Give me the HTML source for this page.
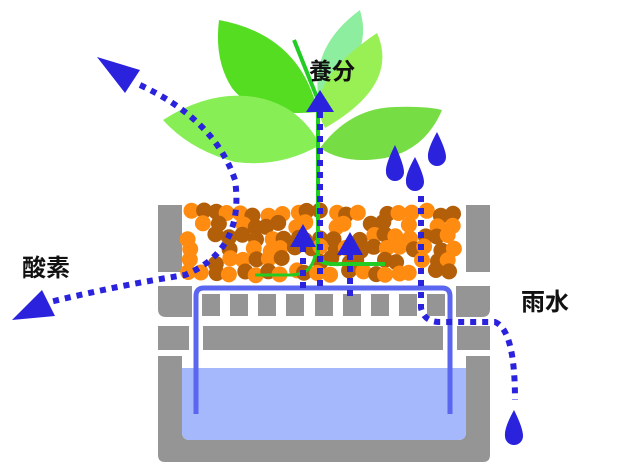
<!DOCTYPE html>
<html><head><meta charset="utf-8"><style>
html,body{margin:0;padding:0;background:#fff;width:640px;height:476px;overflow:hidden}
svg{display:block}
text{font-family:"Liberation Sans","Noto Sans CJK JP",sans-serif;font-weight:bold;fill:#111}
</style></head><body>
<svg id="s" width="640" height="476" viewBox="0 0 640 476" xmlns="http://www.w3.org/2000/svg">
<g fill="#959595">
<rect x="158" y="205" width="24" height="67"/>
<rect x="466" y="205" width="24" height="67"/>
<path d="M158 286 H192 V317 H166 Q158 317 158 309 Z"/>
<path d="M456 286 H490 V309 Q490 317 482 317 H456 Z"/>
<rect x="202" y="294" width="18" height="22"/><rect x="230" y="294" width="18" height="22"/>
<rect x="258" y="294" width="18" height="22"/><rect x="286" y="294" width="18" height="22"/>
<rect x="315" y="294" width="18" height="22"/><rect x="343" y="294" width="18" height="22"/>
<rect x="371" y="294" width="18" height="22"/><rect x="399" y="294" width="18" height="22"/>
<rect x="427" y="294" width="18" height="22"/>
<rect x="158" y="326" width="31" height="24"/>
<rect x="203" y="326" width="240" height="24"/>
<rect x="457" y="326" width="33" height="24"/>
<path d="M158 356 H182 V432 Q182 440 190 440 H458 Q466 440 466 432 V356 H490 V455 Q490 462 483 462 H165 Q158 462 158 455 Z"/>
</g>
<path d="M182 368 H466 V432 Q466 440 458 440 H190 Q182 440 182 432 Z" fill="#a4b8fb"/>
<g id="soil"></g>
<path d="M196 414 V296 Q196 288 204 288 H442 Q450 288 450 296 V414" fill="none" stroke="#5a66f0" stroke-width="5"/>
<!-- leaves -->
<path d="M219 20 Q300 35 318 112 Q255 118 232 88 Q214 60 219 20Z" fill="#55dd22"/>
<path d="M360 10 Q375 60 318 95 Q312 45 360 10Z" fill="#8eeea0"/>
<path d="M377 33 Q400 85 325 128 Q300 85 377 33Z" fill="#99f055"/>
<path d="M163 120 Q210 90 255 97 Q300 105 320 145 Q280 168 235 162 Q190 150 163 120Z" fill="#88ee55"/>
<path d="M442 110 Q425 150 385 158 Q345 165 320 148 Q350 108 395 107 Q425 106 442 110Z" fill="#77dd44"/>
<path d="M294 40 L318 100 V255 Q318 265 340 264 H385" fill="none" stroke="#22cc22" stroke-width="4"/>
<path d="M315 255 Q312 275 290 275 H255" fill="none" stroke="#22cc22" stroke-width="3"/>
<g fill="none" stroke="#2a22dd" stroke-width="6" stroke-dasharray="6 6">
<path d="M140 85 Q215 120 235 180 Q245 250 185 275 Q120 285 50 302"/>
<path d="M320 112 V290"/>
<path d="M303 246 V290"/>
<path d="M350 254 V296"/>
<path d="M421 196 V308 Q424 322 440 322 H495 Q515 330 515 400"/>
</g>
<g fill="#2a22dd">
<path d="M97 57 L140 70 L125 93Z"/>
<path d="M12 320 L42 290 L55 316Z"/>
<path d="M320 90 L334 112 H306Z"/>
<path d="M303 224 L316 247 H290Z"/>
<path d="M350 232 L363 255 H337Z"/>
<path d="M395 145 Q385 165 386 172 A9 9 0 0 0 404 172 Q404 165 395 145Z"/>
<path d="M415 157 Q405 175 406 182 A9 9 0 0 0 424 182 Q424 175 415 157Z"/>
<path d="M437 132 Q427 150 428 157 A9 9 0 0 0 446 157 Q446 150 437 132Z"/>
<path d="M514 410 Q504 428 505 436 A9 9 0 0 0 523 436 Q523 428 514 410Z"/>
</g>
<text x="309" y="79" font-size="23">養分</text>
<text x="22" y="276" font-size="24">酸素</text>
<text x="521" y="310" font-size="24">雨水</text>
</svg>
<script>
(function(){
var g=document.getElementById('soil'),s='',seed=7;
function r(){seed=(seed*9301+49297)%233280;return seed/233280;}
for(var y=213;y<=274;y+=12){for(var x=191;x<=456;x+=13){
if(r()<0.12)continue;
var cx=x+(r()-0.5)*8,cy=y+(r()-0.5)*6;
var c=r()<0.5?'#ff8c10':'#b35e08';
s+='<circle cx="'+cx.toFixed(1)+'" cy="'+cy.toFixed(1)+'" r="8" fill="'+c+'"/>';}}
g.innerHTML=s;
})();
</script>
</body></html>
